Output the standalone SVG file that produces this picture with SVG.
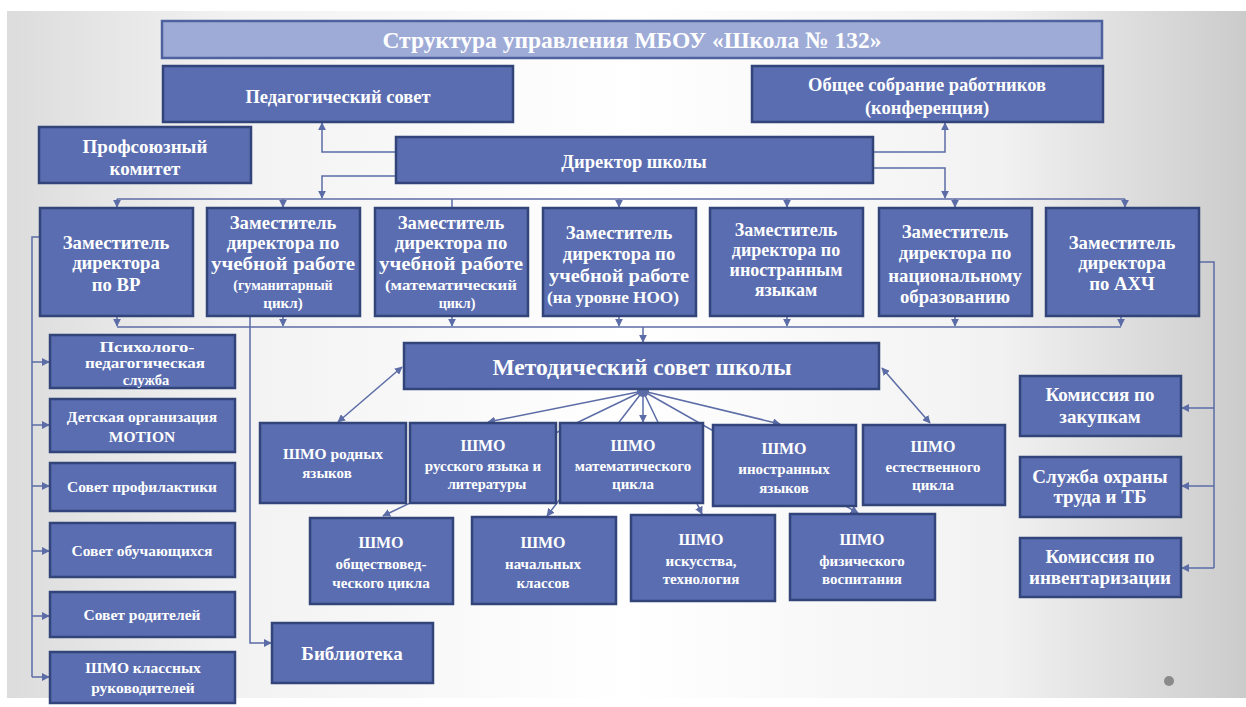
<svg xmlns="http://www.w3.org/2000/svg" width="1246" height="707" viewBox="0 0 1246 707">
<defs>
<linearGradient id="bg" x1="0" y1="0" x2="1" y2="0">
<stop offset="0" stop-color="#dcdcdc"/>
<stop offset="0.18" stop-color="#f2f2f2"/>
<stop offset="0.5" stop-color="#ffffff"/>
<stop offset="0.8" stop-color="#f2f2f2"/>
<stop offset="1" stop-color="#cbcbcb"/>
</linearGradient>
<marker id="ah" viewBox="0 0 10 10" refX="9" refY="5" markerWidth="8" markerHeight="8" markerUnits="userSpaceOnUse" orient="auto-start-reverse">
<path d="M0,0 L10,5 L0,10 z" fill="#5b6ca6"/>
</marker>
<style>
.box{fill:#5a6db0;stroke:#32447a;stroke-width:2.5}
.title{fill:#9eabd6;stroke:#4f62a0;stroke-width:2.5}
.t{font-family:'Liberation Serif','DejaVu Serif',serif;font-weight:700;fill:#ffffff;text-anchor:middle}
.ln{fill:none;stroke:#5b6ca6;stroke-width:1.5}
.ar{fill:none;stroke:#5b6ca6;stroke-width:1.5;marker-end:url(#ah)}
.da{fill:none;stroke:#5b6ca6;stroke-width:1.5;marker-start:url(#ah);marker-end:url(#ah)}
</style>
</defs>
<rect x="0" y="0" width="1246" height="707" fill="#ffffff"/>
<rect x="7" y="11" width="1239" height="687" fill="url(#bg)"/>

<g id="connectors">
<path class="ar" d="M396,152 H322 V123"/>
<path class="ar" d="M396,176 H322 V198"/>
<path class="ar" d="M873,152 H945 V123"/>
<path class="ar" d="M873,168 H945 V198"/>
<path class="ln" d="M117,199 H1125"/>
<path class="ar" d="M117,199 V207"/>
<path class="ar" d="M283,199 V207"/>
<path class="ln" d="M452,199 V207"/>
<path class="ar" d="M619,199 V207"/>
<path class="ar" d="M787,199 V207"/>
<path class="ar" d="M955,199 V207"/>
<path class="ar" d="M1125,199 V207"/>
<path class="ln" d="M117,327 H1121"/>
<path class="ar" d="M117,317 V326"/>
<path class="ar" d="M283,317 V326"/>
<path class="ar" d="M452,317 V326"/>
<path class="ar" d="M619,317 V326"/>
<path class="ar" d="M787,317 V326"/>
<path class="ar" d="M955,317 V326"/>
<path class="ar" d="M1121,317 V326"/>
<path class="ar" d="M643,327 V342"/>
<path class="ln" d="M40,237 H32 V677"/>
<path class="ar" d="M32,362 H49"/>
<path class="ar" d="M32,425 H49"/>
<path class="ar" d="M32,486 H49"/>
<path class="ar" d="M32,551 H49"/>
<path class="ar" d="M32,616 H49"/>
<path class="ar" d="M32,677 H49"/>
<path class="ar" d="M250,317 V643 H271"/>
<path class="ln" d="M1199,262 H1214 V568"/>
<path class="ar" d="M1214,408 H1182"/>
<path class="ar" d="M1214,486 H1182"/>
<path class="ar" d="M1214,568 H1182"/>
<path class="da" d="M402,367 L338,422"/>
<path class="da" d="M882,368 L930,423"/>
<path class="ar" d="M643,391 L488,422"/>
<path class="ar" d="M643,391 L383,516"/>
<path class="ar" d="M643,391 L547,516"/>
<path class="ar" d="M643,391 L643,422"/>
<path class="ar" d="M643,391 L702,514"/>
<path class="ar" d="M643,391 L858,513"/>
<path class="ar" d="M643,391 L780,424"/>
<circle cx="643" cy="391" r="6" fill="#5b6ca6"/>
</g>

<g id="title">
<rect class="title" x="162" y="21" width="940" height="37"/>
<text class="t" x="632" y="48" font-size="23.5" fill="#f2f4fb">Структура управления МБОУ «Школа № 132»</text>
</g>

<g id="ped-sovet">
<rect class="box" x="163" y="66" width="350" height="56"/>
<text class="t" x="338" y="103" font-size="18.5">Педагогический совет</text>
</g>

<g id="obshee-sobranie">
<rect class="box" x="752" y="66" width="351" height="56"/>
<text class="t" x="927" y="91" font-size="18.5">Общее собрание работников</text>
<text class="t" x="927" y="114" font-size="18.5">(конференция)</text>
</g>

<g id="profkom">
<rect class="box" x="39" y="127" width="212" height="56"/>
<text class="t" x="145" y="153" font-size="19">Профсоюзный</text>
<text class="t" x="145" y="175" font-size="19">комитет</text>
</g>

<g id="director">
<rect class="box" x="396" y="137" width="477" height="46"/>
<text class="t" x="634" y="168" font-size="18.5">Директор школы</text>
</g>

<g id="dep-vr">
<rect class="box" x="40" y="208" width="153" height="108"/>
<text class="t" x="116" y="249" font-size="18.7">Заместитель</text>
<text class="t" x="116" y="269" font-size="18.7">директора</text>
<text class="t" x="116" y="291" font-size="18.7">по ВР</text>
</g>

<g id="dep-hum">
<rect class="box" x="207" y="208" width="153" height="108"/>
<text class="t" x="283" y="229" font-size="18.7">Заместитель</text>
<text class="t" x="283" y="249" font-size="18.7">директора по</text>
<text class="t" x="283" y="270" font-size="18.7" textLength="144" lengthAdjust="spacingAndGlyphs">учебной работе</text>
<text class="t" x="283" y="290" font-size="14">(гуманитарный</text>
<text class="t" x="283" y="308" font-size="15">цикл)</text>
</g>

<g id="dep-math">
<rect class="box" x="375" y="208" width="153" height="108"/>
<text class="t" x="451" y="229" font-size="18.7">Заместитель</text>
<text class="t" x="451" y="249" font-size="18.7">директора по</text>
<text class="t" x="451" y="270" font-size="18.7" textLength="144" lengthAdjust="spacingAndGlyphs">учебной работе</text>
<text class="t" x="451" y="290" font-size="15" textLength="132" lengthAdjust="spacingAndGlyphs">(математический</text>
<text class="t" x="457" y="308" font-size="14">цикл)</text>
</g>

<g id="dep-noo">
<rect class="box" x="543" y="208" width="153" height="108"/>
<text class="t" x="619" y="239" font-size="18.7">Заместитель</text>
<text class="t" x="619" y="260" font-size="18.7">директора по</text>
<text class="t" x="619" y="282" font-size="18.7" textLength="140" lengthAdjust="spacingAndGlyphs">учебной работе</text>
<text class="t" x="613" y="303" font-size="16.5" textLength="132" lengthAdjust="spacingAndGlyphs">(на уровне НОО)</text>
</g>

<g id="dep-lang">
<rect class="box" x="710" y="208" width="153" height="108"/>
<text class="t" x="786" y="236" font-size="18">Заместитель</text>
<text class="t" x="786" y="256" font-size="18">директора по</text>
<text class="t" x="786" y="276" font-size="18">иностранным</text>
<text class="t" x="786" y="296" font-size="18">языкам</text>
</g>

<g id="dep-nat">
<rect class="box" x="879" y="208" width="153" height="108"/>
<text class="t" x="955" y="238" font-size="18.7">Заместитель</text>
<text class="t" x="955" y="259" font-size="18.7">директора по</text>
<text class="t" x="955" y="282" font-size="18.7">национальному</text>
<text class="t" x="955" y="303" font-size="18.7">образованию</text>
</g>

<g id="dep-ahch">
<rect class="box" x="1046" y="208" width="153" height="108"/>
<text class="t" x="1122" y="249" font-size="18.7">Заместитель</text>
<text class="t" x="1122" y="269" font-size="18.7">директора</text>
<text class="t" x="1122" y="290" font-size="18.7">по АХЧ</text>
</g>

<g id="metod-sovet">
<rect class="box" x="404" y="343" width="475" height="46"/>
<text class="t" x="642" y="375" font-size="23.5">Методический совет школы</text>
</g>

<g id="psych">
<rect class="box" x="50" y="335" width="185" height="53"/>
<text class="t" x="147" y="352" font-size="15" textLength="95" lengthAdjust="spacingAndGlyphs">Психолого-</text>
<text class="t" x="145" y="368" font-size="15" textLength="120" lengthAdjust="spacingAndGlyphs">педагогическая</text>
<text class="t" x="146" y="385" font-size="14.5">служба</text>
</g>

<g id="motion">
<rect class="box" x="50" y="399" width="185" height="53"/>
<text class="t" x="142" y="422" font-size="15.5">Детская организация</text>
<text class="t" x="142" y="442" font-size="15.5">MOTION</text>
</g>

<g id="profilaktika">
<rect class="box" x="50" y="463" width="185" height="48"/>
<text class="t" x="142" y="492" font-size="15.5">Совет профилактики</text>
</g>

<g id="obuch">
<rect class="box" x="50" y="523" width="185" height="54"/>
<text class="t" x="142" y="556" font-size="15.5">Совет обучающихся</text>
</g>

<g id="roditeli">
<rect class="box" x="50" y="592" width="185" height="45"/>
<text class="t" x="142" y="620" font-size="15.5">Совет родителей</text>
</g>

<g id="klass-ruk">
<rect class="box" x="50" y="652" width="185" height="51"/>
<text class="t" x="143" y="673" font-size="15.5">ШМО классных</text>
<text class="t" x="143" y="693" font-size="15.5">руководителей</text>
</g>

<g id="shmo-rodn">
<rect class="box" x="260" y="423" width="146" height="80"/>
<text class="t" x="333" y="459" font-size="15.5">ШМО родных</text>
<text class="t" x="327" y="478" font-size="15">языков</text>
</g>

<g id="shmo-rus">
<rect class="box" x="410" y="423" width="146" height="80"/>
<text class="t" x="483" y="451" font-size="16">ШМО</text>
<text class="t" x="483" y="471" font-size="15">русского языка и</text>
<text class="t" x="487" y="489" font-size="14.5">литературы</text>
</g>

<g id="shmo-math">
<rect class="box" x="560" y="423" width="143" height="80"/>
<text class="t" x="633" y="451" font-size="16">ШМО</text>
<text class="t" x="633" y="471" font-size="15">математического</text>
<text class="t" x="633" y="489" font-size="15">цикла</text>
</g>

<g id="shmo-inostr">
<rect class="box" x="713" y="425" width="143" height="81"/>
<text class="t" x="784" y="454" font-size="16">ШМО</text>
<text class="t" x="784" y="474" font-size="15">иностранных</text>
<text class="t" x="784" y="493" font-size="15">языков</text>
</g>

<g id="shmo-est">
<rect class="box" x="863" y="425" width="142" height="80"/>
<text class="t" x="933" y="452" font-size="16">ШМО</text>
<text class="t" x="933" y="472" font-size="15">естественного</text>
<text class="t" x="933" y="490" font-size="15">цикла</text>
</g>

<g id="shmo-obsh">
<rect class="box" x="310" y="518" width="143" height="86"/>
<text class="t" x="381" y="548" font-size="16">ШМО</text>
<text class="t" x="381" y="569" font-size="15">обществовед-</text>
<text class="t" x="381" y="588" font-size="15">ческого цикла</text>
</g>

<g id="shmo-nach">
<rect class="box" x="472" y="517" width="144" height="87"/>
<text class="t" x="543" y="548" font-size="16">ШМО</text>
<text class="t" x="543" y="569" font-size="15">начальных</text>
<text class="t" x="543" y="588" font-size="15">классов</text>
</g>

<g id="shmo-isk">
<rect class="box" x="631" y="515" width="144" height="86"/>
<text class="t" x="701" y="545" font-size="16">ШМО</text>
<text class="t" x="701" y="566" font-size="15">искусства,</text>
<text class="t" x="701" y="584" font-size="15">технология</text>
</g>

<g id="shmo-fiz">
<rect class="box" x="790" y="514" width="145" height="86"/>
<text class="t" x="862" y="545" font-size="16">ШМО</text>
<text class="t" x="862" y="566" font-size="15">физического</text>
<text class="t" x="862" y="584" font-size="15">воспитания</text>
</g>

<g id="biblioteka">
<rect class="box" x="272" y="623" width="161" height="60"/>
<text class="t" x="352" y="660" font-size="19">Библиотека</text>
</g>

<g id="zakupki">
<rect class="box" x="1020" y="376" width="161" height="60"/>
<text class="t" x="1100" y="401" font-size="19">Комиссия по</text>
<text class="t" x="1100" y="423" font-size="19">закупкам</text>
</g>

<g id="ohrana">
<rect class="box" x="1020" y="457" width="161" height="60"/>
<text class="t" x="1100" y="483" font-size="19">Служба охраны</text>
<text class="t" x="1100" y="503" font-size="19">труда и ТБ</text>
</g>

<g id="inventar">
<rect class="box" x="1020" y="538" width="161" height="59"/>
<text class="t" x="1100" y="563" font-size="19">Комиссия по</text>
<text class="t" x="1100" y="584" font-size="19">инвентаризации</text>
</g>

<circle cx="1169" cy="681" r="5" fill="#8a8a8a"/>
</svg>
